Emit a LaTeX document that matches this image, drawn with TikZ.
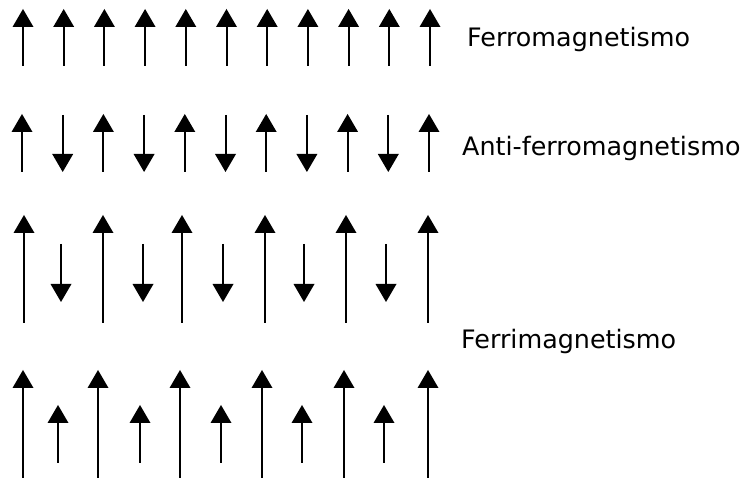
\documentclass[tikz,border=0pt]{standalone}
\usepackage{fontspec}
\setmainfont{DejaVu Sans}
\newcommand\magspin[3]{% x, tail y, tip y
  \pgfmathsetmacro\hb{#3+18*sign(#2-#3)}%
  \draw[spinline] (#1,#2) -- (#1,\hb);
  \fill[spinhead] ({#1-10.5},\hb) -- ({#1+10.5},\hb) -- (#1,#3) -- cycle;}
\begin{document}
\begin{tikzpicture}[x=1pt,y=-1pt,
  spinline/.style={line width=2pt},
  spinhead/.style={black},
  lbl/.style={anchor=base west,inner sep=0pt,font=\fontsize{25.4}{30}\selectfont}]
\useasboundingbox (0,0) rectangle (745,478);
% Row 1: ferromagnetism
\foreach \i in {0,...,10}{
  \magspin{23+40.7*\i}{66}{9}
}
% Row 2: antiferromagnetism
\foreach \i in {0,2,...,10}{
  \magspin{22+40.7*\i}{172}{114}
}
\foreach \i in {1,3,...,9}{
  \magspin{22+40.7*\i}{115}{172}
}
% Row 3
\foreach \x in {24,103,182,265,346,428}{
  \magspin{\x}{323}{215}
}
\foreach \x in {61,143,223,304,386}{
  \magspin{\x}{244}{302}
}
% Row 4
\foreach \x in {23,98,180,262,344,428}{
  \magspin{\x}{478}{370}
}
\foreach \x in {58,140,221,302,384}{
  \magspin{\x}{463}{405}
}
\node[lbl] (ferro) at (467,47) {Ferromagnetismo};
\node[lbl] (anti) at (462,156) {Anti-ferromagnetismo};
\node[lbl] (ferri) at (461,349) {Ferrimagnetismo};
\end{tikzpicture}
\end{document}
